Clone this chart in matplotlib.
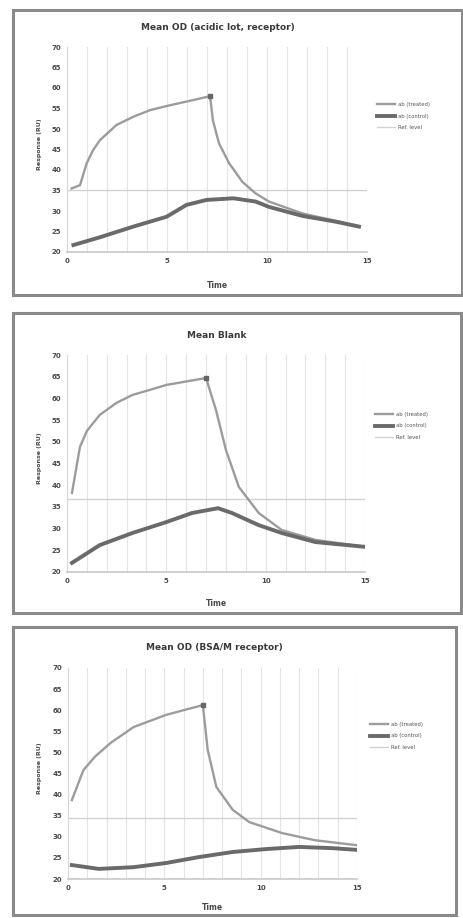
import matplotlib
matplotlib.use("Agg")
import matplotlib.pyplot as plt
from matplotlib.patches import Rectangle

W, H = 464, 918

# ---------------- data ----------------
titles = ["Mean OD (acidic lot, receptor)", "Mean Blank", "Mean OD (BSA/M receptor)"]
series_names = ["ab (treated)", "ab (control)", "Ref. level"]
x_label = "Time"
y_label = "Response (RU)"
x_ticks = [0, 5, 10, 15]
y_ticks = [20, 25, 30, 35, 40, 45, 50, 55, 60, 65, 70]

# chart 1
c1_up_t = [0.23, 0.65, 0.98, 1.3, 1.65, 2.48, 3.32, 4.15, 4.98, 5.98, 7.15, 7.3, 7.6, 8.1, 8.77, 9.43, 10.1, 11.77, 13.43, 14.6]
c1_up_v = [35.5, 36.3, 41.6, 44.8, 47.3, 51.0, 53.0, 54.6, 55.6, 56.7, 58.0, 52.0, 46.5, 41.7, 37.1, 34.3, 32.3, 29.4, 27.6, 26.3]
c1_lo_t = [0.32, 1.65, 3.32, 4.98, 5.98, 6.98, 8.32, 9.43, 10.1, 11.77, 13.43, 14.6]
c1_lo_v = [21.7, 23.6, 26.2, 28.6, 31.5, 32.7, 33.1, 32.3, 31.0, 28.8, 27.4, 26.2]
c1_ref = 35.1

# chart 2
c2_up_t = [0.25, 0.65, 1.0, 1.65, 2.5, 3.3, 4.2, 5.0, 6.0, 7.0, 7.5, 8.0, 8.65, 9.65, 10.8, 12.5, 15.0]
c2_up_v = [38.2, 48.8, 52.5, 56.2, 59.0, 60.8, 62.0, 63.1, 63.9, 64.7, 57.3, 48.1, 39.6, 33.6, 29.7, 27.4, 25.8]
c2_lo_t = [0.25, 1.65, 3.3, 5.0, 6.3, 7.6, 8.3, 9.65, 10.8, 12.5, 15.0]
c2_lo_v = [22.1, 26.2, 29.0, 31.5, 33.6, 34.7, 33.6, 30.8, 29.0, 26.9, 25.8]
c2_ref = 36.8

# chart 3
c3_up_t = [0.2, 0.8, 1.4, 2.2, 3.4, 5.1, 6.0, 7.0, 7.25, 7.7, 8.55, 9.4, 11.1, 12.8, 15.0]
c3_up_v = [38.7, 45.8, 49.0, 52.2, 56.0, 58.9, 60.0, 61.2, 50.6, 41.8, 36.4, 33.5, 30.9, 29.2, 28.0]
c3_lo_t = [0.2, 1.6, 3.4, 5.1, 6.8, 8.55, 10.3, 12.0, 13.75, 15.0]
c3_lo_v = [23.3, 22.4, 22.8, 23.8, 25.2, 26.4, 27.1, 27.6, 27.3, 26.9]
c3_ref = 34.5

charts = [
    (c1_up_t, c1_up_v, c1_lo_t, c1_lo_v, c1_ref),
    (c2_up_t, c2_up_v, c2_lo_t, c2_lo_v, c2_ref),
    (c3_up_t, c3_up_v, c3_lo_t, c3_lo_v, c3_ref),
]

# ---------------- layout (pixels) ----------------
frames = [(13, 10, 462, 295), (13, 313, 461, 613), (13, 627, 456, 915)]
plots = [(67, 367, 47, 252), (67, 365, 355, 572), (68, 357, 668, 879)]
title_y = [28, 335, 648]
xlabel_y = [285, 603, 908]
legend_pos = [(374, 116), (372, 426), (367, 736)]

fig = plt.figure(figsize=(W / 100, H / 100), dpi=100)
fig.patch.set_facecolor("white")

def fx(px):
    return px / W

def fy(py):
    return 1 - py / H

for i, (ut, uv, lt, lv, ref) in enumerate(charts):
    fx0, fy0, fx1, fy1 = frames[i]
    fig.add_artist(Rectangle((fx(fx0), fy(fy1)), fx(fx1 - fx0), (fy1 - fy0) / H,
                             transform=fig.transFigure, facecolor="white",
                             edgecolor="#8a8a8a", linewidth=2.2, zorder=-5))
    px0, px1, pyt, pyb = plots[i]
    ax = fig.add_axes([fx(px0), fy(pyb), fx(px1 - px0), (pyb - pyt) / H])
    ax.set_facecolor("white")
    ax.set_xlim(0, 15)
    ax.set_ylim(20, 70)
    ax.set_xticks(x_ticks)
    ax.set_yticks(y_ticks)
    ax.set_xticks(range(0, 16), minor=True)
    ax.grid(True, which="both", axis="x", color="#e4e4e4", linewidth=0.8)
    ax.tick_params(axis="both", which="both", length=0, labelsize=5,
                   labelcolor="#4a4a4a", pad=4)
    for lab in ax.get_xticklabels() + ax.get_yticklabels():
        lab.set_fontweight("bold")
    for s in ["top", "right"]:
        ax.spines[s].set_visible(False)
    ax.spines["left"].set_color("#d8d8d8")
    ax.spines["bottom"].set_color("#c8c8c8")
    ax.spines["bottom"].set_linewidth(1.2)

    l1, = ax.plot(ut, uv, color="#9c9c9c", linewidth=1.7, label=series_names[0], zorder=3,
                  solid_joinstyle="round")
    l2, = ax.plot(lt, lv, color="#6a6a6a", linewidth=2.8, label=series_names[1], zorder=4,
                  solid_joinstyle="round")
    l3 = ax.axhline(ref, color="#d2d2d2", linewidth=1.0, label=series_names[2], zorder=2)
    k = uv.index(max(uv))
    ax.plot([ut[k]], [uv[k]], marker="s", markersize=3, color="#666666", zorder=5)

    fig.text(fx((fx0 + fx1 - 60) / 2 + 10), fy(title_y[i]), titles[i], ha="center", va="center",
             fontsize=6.5, fontweight="bold", color="#3a3a3a")
    fig.text(fx((px0 + px1) / 2), fy(xlabel_y[i]), x_label, ha="center", va="center",
             fontsize=5.5, fontweight="bold", color="#4a4a4a")
    fig.text(fx(40), fy((pyt + pyb) / 2 - 5), y_label, ha="center", va="center",
             rotation=90, fontsize=4.5, fontweight="bold", color="#4a4a4a")

    lx, ly = legend_pos[i]
    ax.legend(handles=[l1, l2, l3], loc="center left",
              bbox_to_anchor=(fx(lx), fy(ly)), bbox_transform=fig.transFigure,
              frameon=False, fontsize=3.8, handlelength=3.5, labelspacing=1.2,
              labelcolor="#555555", borderpad=0, handletextpad=0.5)

fig.savefig("out.png", dpi=100, facecolor="white")
